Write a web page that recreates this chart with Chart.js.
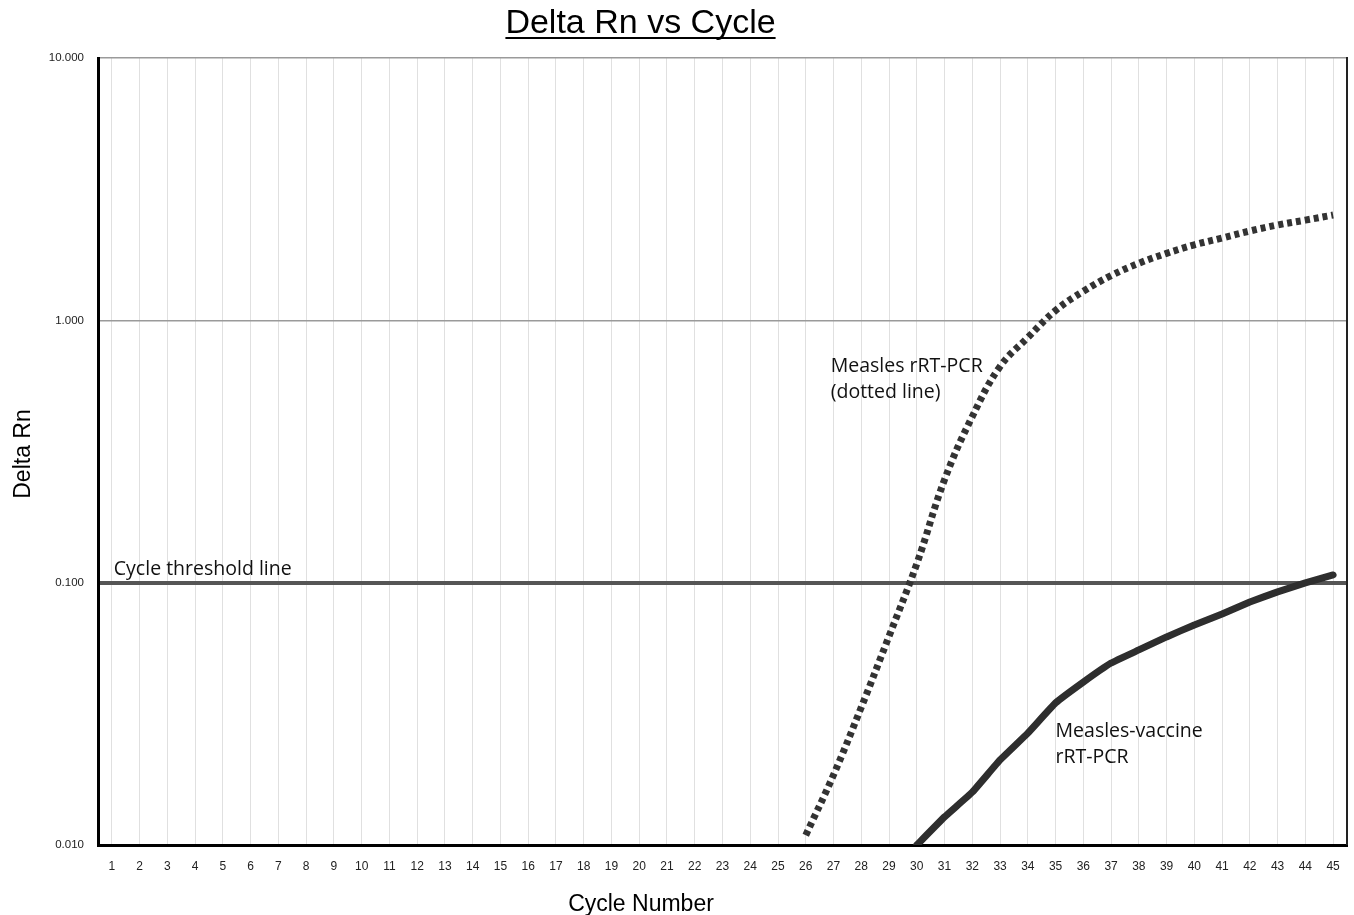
<!DOCTYPE html>
<html>
<head>
<meta charset="utf-8">
<title>Delta Rn vs Cycle</title>
<script src="https://cdn.jsdelivr.net/npm/chart.js@4/dist/chart.umd.min.js"></script>
<style>
  html, body { margin: 0; padding: 0; background: #ffffff; }
  canvas { display: block; }
</style>
</head>
<body>
<canvas id="chart" width="1354" height="915"></canvas>
<script>
// Amplification cycles (x categories)
const cycles = ['1','2','3','4','5','6','7','8','9','10','11','12','13','14','15',
  '16','17','18','19','20','21','22','23','24','25','26','27','28','29','30',
  '31','32','33','34','35','36','37','38','39','40','41','42','43','44','45'];

// Delta Rn tick values on the log axis
const yTickValues = [0.01, 0.1, 1, 10];

// Ct threshold
const thresholdValue = 0.1;

// Measles rRT-PCR (dotted line), cycles 1-45
const measlesRtPcr = [null, null, null, null, null, null, null, null, null, null,
  null, null, null, null, null, null, null, null, null, null,
  null, null, null, null, null,
  0.0109, 0.0185, 0.0335, 0.0625, 0.118,
  0.247, 0.43, 0.667, 0.86, 1.09,
  1.29, 1.48, 1.65, 1.80, 1.94,
  2.06, 2.19, 2.31, 2.41, 2.52];

// Measles-vaccine rRT-PCR (solid line), cycles 1-45
const vaccineRtPcr = [null, null, null, null, null, null, null, null, null, null,
  null, null, null, null, null, null, null, null, null, null,
  null, null, null, null, null, null, null, null, null,
  0.0100, 0.0128, 0.0159, 0.0211, 0.0267, 0.0348,
  0.0418, 0.0494, 0.0554, 0.0621, 0.069,
  0.076, 0.0844, 0.0922, 0.0998, 0.107];

// In-plot labels, anchored in data units (cycle, Delta Rn)
const noteCycle = [1.07, 26.9, 35.0];
const noteValue = [0.1074, 0.635, 0.0258];
const noteLines = [
  ['Cycle threshold line'],
  ['Measles rRT-PCR', '(dotted line)'],
  ['Measles-vaccine', 'rRT-PCR']
];

const chartTitle = 'Delta Rn vs Cycle';
const xTitle = 'Cycle Number';
const yTitle = 'Delta Rn';

const textPlugin = {
  id: 'chartText',
  beforeDraw(chart) {
    const ctx = chart.ctx;
    ctx.save();
    ctx.fillStyle = '#ffffff';
    ctx.fillRect(0, 0, chart.width, chart.height);
    ctx.restore();
  },
  afterDraw(chart) {
    const ctx = chart.ctx;
    const area = chart.chartArea;
    const xs = chart.scales.x;
    const ys = chart.scales.y;
    ctx.save();

    // right frame edge
    ctx.strokeStyle = '#222222';
    ctx.lineWidth = 2;
    ctx.beginPath();
    ctx.moveTo(area.right, area.top - 1);
    ctx.lineTo(area.right, area.bottom);
    ctx.stroke();

    // title, underlined
    ctx.fillStyle = '#000000';
    ctx.font = '34px "Liberation Sans", Arial, sans-serif';
    ctx.textAlign = 'center';
    ctx.textBaseline = 'alphabetic';
    const tx = 640.5, ty = 33;
    ctx.fillText(chartTitle, tx, ty);
    const tw = ctx.measureText(chartTitle).width;
    ctx.fillRect(tx - tw / 2, ty + 4, tw, 2);

    // axis titles
    ctx.font = '23px "Liberation Sans", Arial, sans-serif';
    ctx.fillText(xTitle, 641, 911);
    ctx.save();
    ctx.translate(30, 454);
    ctx.rotate(-Math.PI / 2);
    ctx.fillText(yTitle, 0, 0);
    ctx.restore();

    // in-plot notes
    ctx.font = '19.5px "Open Sans", sans-serif';
    ctx.textAlign = 'left';
    ctx.fillStyle = '#111111';
    for (let i = 0; i < noteLines.length; i++) {
      const px = xs.getPixelForValue(noteCycle[i] - 1);
      const py = ys.getPixelForValue(noteValue[i]);
      noteLines[i].forEach((line, j) => ctx.fillText(line, px, py + j * 26));
    }
    ctx.restore();
  }
};

new Chart(document.getElementById('chart'), {
  type: 'line',
  data: {
    labels: cycles,
    datasets: [
      {
        label: 'Measles rRT-PCR',
        data: measlesRtPcr,
        borderColor: '#333333',
        borderWidth: 7,
        borderDash: [5, 4],
        borderCapStyle: 'butt',
        tension: 0.4,
        pointRadius: 0,
        fill: false
      },
      {
        label: 'Measles-vaccine rRT-PCR',
        data: vaccineRtPcr,
        borderColor: '#2e2e2e',
        borderWidth: 7,
        borderCapStyle: 'round',
        borderJoinStyle: 'round',
        tension: 0.1,
        pointRadius: 0,
        fill: false
      }
    ]
  },
  options: {
    responsive: false,
    devicePixelRatio: 1,
    animation: false,
    layout: { padding: { left: 0, right: 7, top: 58, bottom: 0 } },
    plugins: {
      legend: { display: false },
      title: { display: false },
      tooltip: { enabled: false }
    },
    scales: {
      x: {
        type: 'category',
        offset: true,
        grid: { color: '#e0e0e0', lineWidth: 1, drawTicks: false, offset: false },
        border: { color: '#000000', width: 3 },
        ticks: {
          color: '#222222',
          font: { family: '"Liberation Sans", Arial, sans-serif', size: 12 },
          padding: 14,
          maxRotation: 0,
          autoSkip: false
        },
        afterFit(scale) { scale.height = 70; }
      },
      y: {
        type: 'logarithmic',
        min: 0.01,
        max: 10,
        afterBuildTicks(scale) {
          scale.ticks = yTickValues.map(v => ({ value: v }));
        },
        grid: {
          drawTicks: false,
          color: ctx => (ctx.tick && ctx.tick.value === thresholdValue) ? '#555555' : '#9a9a9a',
          lineWidth: ctx => (ctx.tick && ctx.tick.value === thresholdValue) ? 4 : 1.5
        },
        border: { color: '#000000', width: 3 },
        ticks: {
          color: '#222222',
          font: { family: '"Liberation Sans", Arial, sans-serif', size: 11.5 },
          padding: 14,
          callback: v => Number(v).toFixed(3)
        },
        afterFit(scale) { scale.width = 98; }
      }
    }
  },
  plugins: [textPlugin]
});
</script>
</body>
</html>
